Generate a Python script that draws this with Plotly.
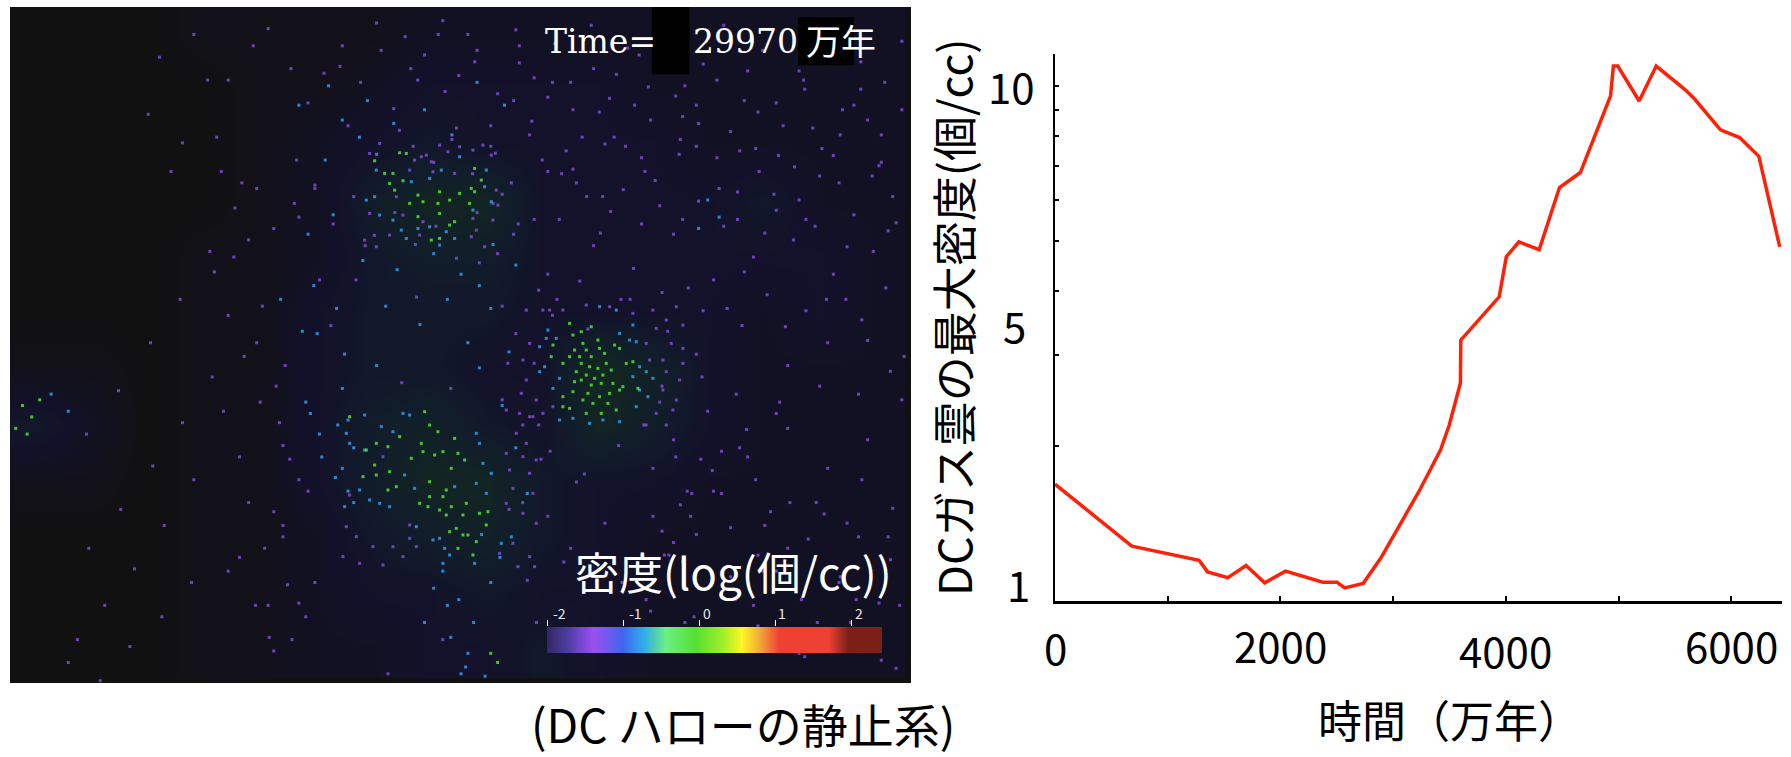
import plotly.graph_objects as go

W, H = 1791, 757

# ---- line chart data
time_myr = [0, 682, 1278, 1354, 1534, 1695, 1861, 2045, 2377, 2502, 2570, 2735, 2892, 3004, 3229, 3421, 3498,
            3597, 3600, 3941, 4004, 4116, 4296, 4476, 4661, 4929, 4954, 4993, 5183, 5334, 5587, 5675, 5904,
            6074, 6245, 6430]
max_density = [1.686, 1.278, 1.2, 1.139, 1.11, 1.172, 1.085, 1.143, 1.088, 1.088, 1.06, 1.082, 1.213, 1.336,
               1.632, 1.965, 2.196, 2.65, 3.21, 3.896, 4.66, 4.98, 4.81, 6.35, 6.79, 9.57, 10.93, 10.93, 9.35,
               10.93, 9.85, 9.43, 8.22, 7.94, 7.3, 4.87]
x_ticks = [0, 1000, 2000, 3000, 4000, 5000, 6000]
y_ticks = [1, 2, 3, 4, 5, 6, 7, 8, 9, 10]
x_label_vals = [0, 2000, 4000, 6000]
x_label_text = ["0", "2000", "4000", "6000"]
x_label_py = [646, 644, 649, 644]

grid_x = [33.5, 82.5, 131.5, 180.5, 229.5, 278.5, 327.5, 376.5, 425.5, 474.5, 523.5, 572.5, 621.5, 670.5, 719.5, 768.5]
grid_y = [30, 79, 128, 177, 226, 275, 324, 373, 422, 471, 520, 569]
grid_z = [
    [0, 0, 0, 1, 1, 1, 1, 2, 2, 2, 2, 2, 2, 2, 2, 2],
    [0, 0, 0, 0, 1, 1, 2, 3, 3, 3, 3, 2, 2, 2, 2, 2],
    [0, 0, 0, 0, 1, 2, 3, 4, 3, 3, 3, 3, 2, 2, 2, 2],
    [0, 0, 0, 0, 1, 2, 5, 7, 7, 3, 3, 3, 3, 4, 2, 2],
    [0, 0, 0, 1, 1, 2, 4, 5, 5, 3, 3, 3, 3, 3, 3, 2],
    [0, 0, 0, 1, 1, 3, 4, 4, 4, 3, 3, 3, 3, 2, 3, 2],
    [1, 1, 0, 1, 1, 3, 4, 4, 3, 3, 8, 6, 3, 2, 2, 2],
    [4, 2, 0, 1, 1, 3, 5, 6, 4, 3, 7, 5, 3, 2, 2, 2],
    [1, 1, 0, 1, 1, 3, 5, 7, 7, 4, 3, 3, 2, 2, 2, 2],
    [0, 0, 0, 1, 1, 2, 4, 5, 6, 4, 3, 2, 2, 2, 2, 2],
    [0, 0, 0, 1, 1, 2, 3, 3, 4, 3, 3, 2, 2, 2, 2, 2],
    [0, 0, 0, 1, 1, 2, 2, 3, 3, 4, 3, 2, 2, 2, 2, 2],
]

crop_a_origin = (520, 300)
crop_a_green = [(150,70),(185,95),(160,105),(215,80),(190,130),(235,120),(165,150),(200,150),(240,145),(255,160),
                (180,170),(215,170),(150,170),(95,170),(100,135),(130,190),(185,190),(210,200),(235,205),(260,190),
                (285,135),(300,145),(170,215),(200,225),(225,235),(250,225),(275,210),(320,190),(340,185),(165,245),
                (185,240),(215,255),(245,250),(280,250),(310,260),(130,290),(160,275),(205,280),(240,290),(270,280),
                (300,270),(150,325),(190,300),(220,310),(265,310),(290,330),(130,320),(355,265),(245,340),(200,340)]
crop_a_teal = [(80,115),(110,115),(60,140),(85,90),(240,20),(290,30),(340,75),(350,125),(330,120),(300,100),(75,200),
               (60,215),(120,235),(100,265),(360,200),(380,215),(400,235),(340,230),(360,270),(385,290),(350,320),
               (120,360),(160,355),(210,370),(300,365),(250,360)]
crop_a_purple = [(20,30),(70,30),(130,30),(200,15),(270,20),(340,40),(400,30),(470,20),(440,60),(490,75),(410,85),
                 (455,130),(490,145),(430,180),(490,190),(440,215),(480,240),(430,270),(470,300),(460,330),(410,340),
                 (440,375),(30,130),(10,180),(20,240),(5,280),(50,300),(30,350),(70,340),(100,320),(90,30),(380,130),(390,180)]
crop_b_origin = (340, 400)
crop_b_green = [(30,50),(110,130),(145,140),(80,150),(105,195),(110,225),(150,215),(70,230),(255,35),(270,75),(245,130),
                (250,155),(285,165),(215,175),(310,155),(180,110),(295,95),(345,115),(355,160),(335,205),(375,180),
                (270,245),(145,270),(170,260),(320,270),(310,290),(270,290),(265,320),(335,320),(300,330),(370,345),
                (320,345),(380,310),(240,310),(440,375),(385,405),(330,395),(350,385),(410,425),(370,405),(355,445),
                (400,465),(420,340),(445,335)]
crop_b_teal = [(75,45),(210,45),(125,80),(160,95),(20,100),(75,150),(30,130),(420,130),(410,100),(430,190),(455,220),
               (410,250),(440,280),(90,300),(120,310),(150,320),(195,225),(225,265),(345,260),(230,380),(300,415),
               (315,445),(330,465),(280,420),(485,430),(310,490),(405,490),(60,270),(15,320),(25,60),(190,40)]
crop_b_purple = [(500,30),(540,40),(580,50),(530,100),(560,130),(500,160),(550,170),(590,180),(510,210),(570,220),
                 (520,265),(580,280),(500,310),(550,340),(590,370),(20,380),(50,410),(100,440),(10,470),(60,490),
                 (130,495),(160,440),(210,415),(230,440),(190,470),(480,460),(520,430),(570,470),(535,500),(585,500),
                 (210,375),(30,285),(130,170)]
crop_c_origin = (360, 140)
crop_c_green = [(120,38),(140,40),(45,62),(75,100),(100,100),(90,130),(130,122),(105,150),(175,165),(190,185),(235,190),
                (270,180),(300,160),(335,145),(345,155),(330,190),(240,155),(150,190),(285,245),(270,255),(175,230),
                (240,220),(215,300),(240,295),(365,120),(345,85)]
crop_c_teal = [(300,50),(45,170),(20,180),(155,125),(210,115),(245,90),(380,90),(375,140),(395,185),(340,210),(60,225),
               (100,240),(125,270),(175,265),(210,260),(260,275),(285,295),(140,295),(240,315),(50,90)]
crop_c_purple = [(200,45),(185,50),(165,60),(240,15),(265,35),(300,20),(370,15),(340,30),(395,45),(215,65),(285,100),
                 (220,95),(150,90),(30,40),(60,10),(30,220),(130,225),(110,170),(410,150),(415,195),(400,240),(350,270),
                 (335,290),(180,285),(90,285),(15,300),(50,320),(375,320),(340,235),(190,245)]

# wide-field specks read from the shrunk view
left_green_x = [20, 28, 14, 35, 24, 430, 436]
left_green_y = [355, 365, 375, 350, 380, 572, 580]
field_teal_x = [300, 315, 330, 285, 275, 295, 265, 300, 330, 420, 430, 410, 620, 630, 612, 60, 45, 300, 280, 310,
                262, 288, 322, 345, 372, 396, 418, 442, 270, 292, 318, 348, 380, 404, 432, 452, 246, 278, 302, 338,
                368, 392, 420, 446, 272, 296, 310, 282, 305, 268, 294, 440, 452, 462, 448, 430, 402, 388, 415, 395,
                410, 425, 408, 392, 380, 372, 438, 422, 404]
field_teal_y = [105, 120, 135, 140, 250, 270, 290, 340, 320, 250, 270, 300, 175, 190, 200, 360, 345, 410, 380, 440,
                92, 75, 88, 108, 96, 118, 72, 92, 205, 188, 228, 236, 222, 240, 214, 232, 262, 292, 310, 268,
                284, 262, 322, 308, 362, 372, 392, 400, 430, 352, 418, 355, 392, 432, 470, 510, 525, 500, 545, 558,
                572, 592, 584, 530, 515, 545, 488, 468, 590]
field_purple_x = [140, 170, 200, 235, 255, 270, 300, 330, 360, 390, 410, 430, 455, 480, 510, 540, 570, 600, 640, 680, 720, 760,
                  150, 190, 225, 260, 305, 345, 440, 475, 505, 535, 565, 595, 630, 665, 700, 735, 770,
                  205, 240, 280, 320, 365, 420, 450, 480, 520, 555, 590, 625, 660, 695, 730, 765, 785,
                  225, 250, 290, 440, 585, 610, 650, 690, 725, 755, 780,
                  210, 245, 270, 590, 620, 655, 690, 725, 760, 790, 580, 625, 670, 715, 755,
                  200, 235, 500, 545, 590, 640, 690, 735, 780, 240, 470, 520, 570, 615, 660, 705, 745, 785,
                  455, 500, 525, 560, 610, 655, 705, 745, 432, 468, 492, 528, 548, 612, 648, 678, 712, 748, 775,
                  440, 488, 515, 552, 603, 637, 672, 706, 741, 776, 445, 472, 505, 580, 615, 645, 683, 718, 752, 792,
                  605, 640, 675, 708, 742, 778, 598, 632, 668, 702, 736, 770, 600, 633, 664, 700, 738, 772,
                  160, 212, 262, 312, 352, 395, 130, 182, 222, 276, 340, 388, 248, 268, 232, 218, 262, 248, 276, 256,
                  482, 512, 542, 572, 602, 632, 662, 692, 722, 752, 782, 458, 494, 530, 566, 608, 644, 680, 716, 750, 788]
field_purple_y = [50, 30, 70, 25, 60, 90, 40, 20, 60, 80, 30, 110, 55, 85, 120, 65, 105, 75, 115, 90, 130, 105,
                  150, 120, 165, 140, 110, 95, 170, 140, 160, 185, 150, 135, 165, 150, 175, 160, 145,
                  225, 200, 245, 215, 260, 230, 205, 240, 215, 235, 205, 245, 225, 210, 240, 220, 195,
                  300, 320, 285, 350, 290, 310, 285, 320, 300, 280, 325,
                  400, 370, 430, 385, 360, 400, 375, 410, 385, 350, 465, 430, 460, 440, 420,
                  500, 530, 480, 510, 475, 505, 480, 510, 490, 570, 545, 565, 535, 560, 530, 575, 545, 585,
                  40, 72, 98, 48, 92, 62, 78, 46, 178, 192, 152, 172, 128, 108, 132, 170, 112, 92, 72,
                  268, 262, 288, 262, 252, 270, 258, 272, 262, 252, 318, 372, 422, 338, 330, 345, 352, 338, 345, 312,
                  452, 462, 448, 472, 458, 470, 492, 520, 500, 525, 505, 528, 545, 560, 548, 572, 556, 578,
                  125, 160, 190, 245, 335, 340, 100, 70, 40, 165, 590, 560, 460, 540, 480, 440, 420, 390, 510, 560,
                  395, 415, 390, 410, 430, 395, 420, 440, 450, 470, 445, 440, 492, 458, 525, 540, 525, 500, 545, 525, 530]
more_purple_x = [355, 372, 388, 402, 418, 436, 452, 468, 486, 502, 518, 534, 550, 568, 584, 598, 616, 634, 652, 668,
                 686, 704, 720, 738, 754, 772, 790, 362, 380, 396, 414, 430, 448, 464, 480, 496, 514, 530, 546, 562,
                 578, 596, 612, 628, 646, 662, 680, 696, 714, 730, 748, 764, 782, 284, 298, 316, 334, 350, 366, 384,
                 400, 416, 434, 450, 466, 484, 502, 520, 538, 556, 574, 592, 610, 628, 646, 664, 682, 700, 718, 736,
                 754, 772, 790, 258, 276, 292, 310, 328, 346, 364, 382, 400, 418, 436, 454, 472, 490, 508, 526, 544,
                 562, 580, 598, 616, 634, 652, 670, 688, 706, 724, 742, 760, 778, 452, 468, 484, 458, 474, 446, 462,
                 480, 564, 578, 592, 606, 572, 586, 600, 614, 566, 582, 596, 610, 624, 638, 654, 632, 648, 664, 680,
                 194, 206, 218, 230, 242, 254, 188, 200, 214, 228, 240, 252, 196, 210, 224, 236, 248, 262,
                 68, 92, 118, 144, 170, 76, 104, 132, 158, 184, 60, 88, 114, 142, 168, 78, 106, 134, 160, 186]
more_purple_y = [32, 48, 18, 66, 44, 82, 26, 68, 38, 96, 22, 86, 42, 76, 30, 102, 56, 22, 88, 44,
                 110, 70, 32, 96, 54, 118, 36, 128, 142, 122, 152, 128, 160, 118, 150, 132, 172, 126, 166, 138,
                 180, 122, 176, 138, 192, 130, 184, 146, 198, 136, 188, 154, 172, 64, 58, 72, 44, 114, 70, 30,
                 112, 54, 134, 88, 106, 72, 148, 60, 120, 92, 158, 84, 128, 70, 168, 98, 136, 62, 154, 118,
                 78, 142, 96, 178, 162, 196, 172, 206, 186, 214, 198, 226, 186, 222, 196, 254, 192, 246, 204, 262,
                 196, 256, 192, 272, 198, 238, 204, 286, 192, 262, 216, 298, 202, 292, 318, 276, 372, 402, 446, 508,
                 452, 372, 352, 400, 432, 452, 486, 514, 402, 372, 486, 442, 468, 412, 496, 376, 432, 392, 486, 362,
                 150, 182, 210, 268, 338, 402, 238, 276, 312, 352, 448, 512, 360, 488, 530, 558, 470, 528,
                 560, 530, 498, 460, 420, 380, 342, 300, 262, 220, 580, 596, 566, 540, 510, 480, 446, 408, 370, 330]

# ---- colour bar
bar_values = [-2.0, -1.8, -1.6, -1.4, -1.2, -1.0, -0.8, -0.6, -0.4, -0.2, 0.0, 0.2, 0.4, 0.6, 0.8, 1.0, 1.2, 1.4,
              1.6, 1.8, 2.0, 2.2, 2.4]
bar_ticks = [-2, -1, 0, 1, 2]
bar_tick_text = ["-2", "-1", "0", "1", "2"]
bar_label_shift = [12, 12, 8, 7, 7]

scale_stops = [(-2.0, "#332766"), (-1.7, "#5040a8"), (-1.4, "#9b4ff0"), (-1.0, "#3f66ee"), (-0.75, "#2fa8ee"),
               (-0.45, "#6cef84"), (-0.05, "#55e032"), (0.3, "#a0ee28"), (0.55, "#fdf624"), (0.8, "#f2a63a"),
               (1.05, "#ef4034"), (1.7, "#ef4034"), (1.95, "#7a2018"), (2.4, "#7a2018")]
rainbow = [[(v + 2.0) / 4.4, c] for v, c in scale_stops]
haze = [[0, "#111111"], [0.35, "#13112a"], [0.65, "#111e2a"], [1, "#12291f"]]
panel_scale = 1791 / 1568


def from_crop(points, origin):
    return ([(origin[0] + p[0] / 3) / panel_scale for p in points], [(origin[1] + p[1] / 3) / panel_scale for p in points])


def join(*parts):
    xs, ys = [], []
    for a, b in parts:
        xs += a
        ys += b
    return xs, ys


green = join(from_crop(crop_a_green, crop_a_origin), from_crop(crop_b_green, crop_b_origin),
             from_crop(crop_c_green, crop_c_origin), (left_green_x, left_green_y))
teal = join(from_crop(crop_a_teal, crop_a_origin), from_crop(crop_b_teal, crop_b_origin),
            from_crop(crop_c_teal, crop_c_origin), (field_teal_x, field_teal_y))
purple = join(from_crop(crop_a_purple, crop_a_origin), from_crop(crop_b_purple, crop_b_origin),
              from_crop(crop_c_purple, crop_c_origin), (field_purple_x, field_purple_y), (more_purple_x, more_purple_y))


def px_x(a, b):
    return [a / W, b / W]


def px_y(top, bottom):
    return [(H - bottom) / H, (H - top) / H]


fig = go.Figure()

# density panel
fig.add_trace(go.Heatmap(x=grid_x, y=grid_y, z=grid_z, colorscale=haze, zmin=0, zmax=8, zsmooth="best",
                         showscale=False, hoverinfo="skip", xaxis="x2", yaxis="y2"))
for (xs, ys), val in [(purple, -1.5), (teal, -0.8), (green, -0.05)]:
    fig.add_trace(go.Scatter(x=xs, y=ys, mode="markers", xaxis="x2", yaxis="y2", hoverinfo="skip", showlegend=False,
                             marker=dict(size=3, symbol="square", color=[val] * len(xs), colorscale=rainbow, cmin=-2, cmax=2.4,
                                         opacity=0.85, line=dict(width=0))))

# colour bar
fig.add_trace(go.Heatmap(x=bar_values, y=[0, 1], z=[bar_values, bar_values], colorscale=rainbow, zmin=-2, zmax=2.4,
                         zsmooth="best", showscale=False, hoverinfo="skip", xaxis="x3", yaxis="y3"))

# line chart
fig.add_trace(go.Scatter(x=time_myr, y=max_density, mode="lines", line=dict(color="#ff2008", width=3.5),
                         showlegend=False, xaxis="x", yaxis="y"))

sans = "Noto Sans CJK JP"
annotations = []
for v, t, py in zip(x_label_vals, x_label_text, x_label_py):
    annotations.append(dict(x=v, xref="x", y=(H - py) / H, yref="paper", text=t,
                            showarrow=False, font=dict(family=sans, size=42, color="black"), xanchor="center", yanchor="middle"))
for yp, t, xp in [(583, "1", 1032), (324, "5", 1028), (86, "10", 1037)]:
    annotations.append(dict(x=xp / W, xref="paper", y=(H - yp) / H, yref="paper", text=t, showarrow=False,
                            font=dict(family=sans, size=42, color="black"), xanchor="right", yanchor="middle"))
for v, t, shift in zip(bar_ticks, bar_tick_text, bar_label_shift):
    annotations.append(dict(x=v, xref="x3", y=(H - 613) / H, yref="paper", xshift=shift, text=t, showarrow=False,
                            font=dict(family=sans, size=14, color="#e8e8e8"), xanchor="center", yanchor="middle"))


def note(px, py, text, size, color="black", family=sans, anchor="center", angle=0):
    annotations.append(dict(x=px / W, y=(H - py) / H, xref="paper", yref="paper", text=text, showarrow=False,
                            textangle=angle, xanchor=anchor, yanchor="middle",
                            font=dict(family=family, size=size, color=color)))


note(1450, 719, "時間（万年）", 44)
note(952, 317, "DCガス雲の最大密度(個/cc)", 45, angle=-90)
note(743, 723, "(DC ハローの静止系)", 46)
note(733, 571, "密度(log(個/cc))", 44, color="white")
note(543, 41, "Time=", 33, color="white", family="DejaVu Serif", anchor="left")
note(691, 41, "29970", 33, color="white", family="DejaVu Serif", anchor="left")
note(841, 39, "万年", 35, color="white")

shapes = [dict(type="rect", xref="x2", yref="y2", x0=9, x1=798, y0=6, y1=598, fillcolor="#111111", line=dict(width=0), layer="below"),
          dict(type="rect", xref="x2", yref="y2", x0=571, x1=604, y0=6, y1=65, fillcolor="black", line=dict(width=0), layer="above"),
          dict(type="rect", xref="x2", yref="y2", x0=699, x1=748, y0=15, y1=57, fillcolor="black", line=dict(width=0), layer="above")]

fig.update_layout(
    width=W, height=H, margin=dict(l=0, r=0, t=0, b=0), paper_bgcolor="white", plot_bgcolor="white", showlegend=False,
    annotations=annotations, shapes=shapes,
    xaxis=dict(domain=px_x(1055, 1782), range=[0, 6450], tickvals=x_ticks, ticktext=[""] * len(x_ticks), ticks="inside",
               ticklen=5, tickwidth=2, tickcolor="black", showline=True, linecolor="black", linewidth=3, showgrid=False,
               zeroline=False, anchor="y"),
    yaxis=dict(domain=px_y(54, 601), type="log", range=[0, 1.062], tickvals=y_ticks, ticktext=[""] * len(y_ticks),
               ticks="inside", ticklen=4, tickwidth=2, tickcolor="black", showline=True, linecolor="black", linewidth=2,
               showgrid=False, zeroline=False, anchor="x"),
    xaxis2=dict(domain=px_x(10, 911), range=[9, 798], visible=False, anchor="y2"),
    yaxis2=dict(domain=px_y(7, 683), range=[598, 6], visible=False, anchor="x2"),
    xaxis3=dict(domain=px_x(547, 882), range=[-2, 2.4], side="top", tickvals=bar_ticks, ticktext=[""] * len(bar_ticks),
                ticks="outside", ticklen=6, tickwidth=1, tickcolor="white", showgrid=False, zeroline=False, anchor="y3"),
    yaxis3=dict(domain=px_y(627, 653), range=[0, 1], visible=False, anchor="x3"),
)

fig.write_html("out.html", config=dict(displayModeBar=False),
               post_script="document.body.style.margin='0';document.body.style.overflow='hidden';")
